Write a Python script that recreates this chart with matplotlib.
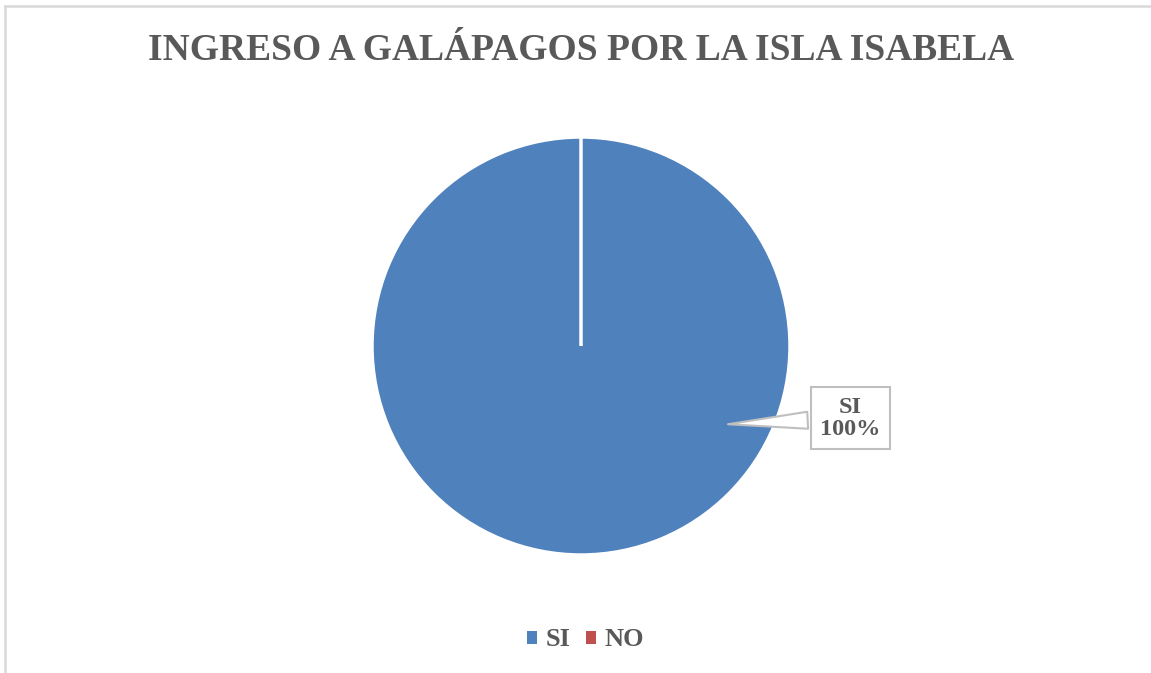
import matplotlib
matplotlib.use("Agg")
import matplotlib.pyplot as plt
from matplotlib.lines import Line2D

# datos
categorias = ['SI', 'NO']
valores = [100, 0]
colores = ['#4F81BD', '#C0504D']
titulo = 'INGRESO A GALÁPAGOS POR LA ISLA ISABELA'
gris = '#595959'

plt.rcParams['font.family'] = ['Liberation Serif', 'DejaVu Serif']

fig = plt.figure(figsize=(11.51, 6.73), dpi=100)
fig.patch.set_facecolor('white')

# borde del grafico (izquierda y arriba)
fig.add_artist(Line2D([5 / 1151, 5 / 1151], [0, 1 - 6 / 673], color='#d9d9d9', lw=1.8))
fig.add_artist(Line2D([5 / 1151, 1], [1 - 6 / 673, 1 - 6 / 673], color='#d9d9d9', lw=1.8))

cx, cy, r = 581, 346, 209
ax = fig.add_axes([(cx - r) / 1151, (673 - cy - r) / 673, 2 * r / 1151, 2 * r / 673])
wedges, _ = ax.pie(valores, colors=colores, startangle=90, counterclock=False,
                   wedgeprops=dict(edgecolor='white', linewidth=2.5))
ax.set_xlim(-1, 1)
ax.set_ylim(-1, 1)
ax.set_aspect('equal')

# etiqueta tipo globo
total = sum(valores)
ax.annotate(f'{categorias[0]}\n{valores[0] / total * 100:.0f}%',
            xy=(0.69, -0.375), xytext=(1.29, -0.345),
            ha='center', va='center', fontsize=17.5, fontweight='bold', color=gris,
            linespacing=1.05,
            bbox=dict(boxstyle='square,pad=0.38', fc='white', ec='#bfbfbf', lw=1.5),
            arrowprops=dict(arrowstyle='wedge,tail_width=0.7,shrink_factor=0.5',
                            fc='white', ec='#bfbfbf', lw=1.5),
            annotation_clip=False)

fig.text(0.505, 1 - 50 / 673, titulo, ha='center', va='center',
         fontsize=27, fontweight='bold', color=gris)

leg = fig.legend(wedges, categorias, loc='center', bbox_to_anchor=(0.5087, 1 - 640 / 673),
                 ncol=2, frameon=False, handlelength=0.38, handleheight=0.38,
                 handletextpad=0.3, columnspacing=0.6,
                 prop=dict(size=19, weight='bold'))
for t in leg.get_texts():
    t.set_color(gris)
for h in leg.legend_handles:
    h.set_edgecolor('none')

fig.savefig('out.png', dpi=100)
